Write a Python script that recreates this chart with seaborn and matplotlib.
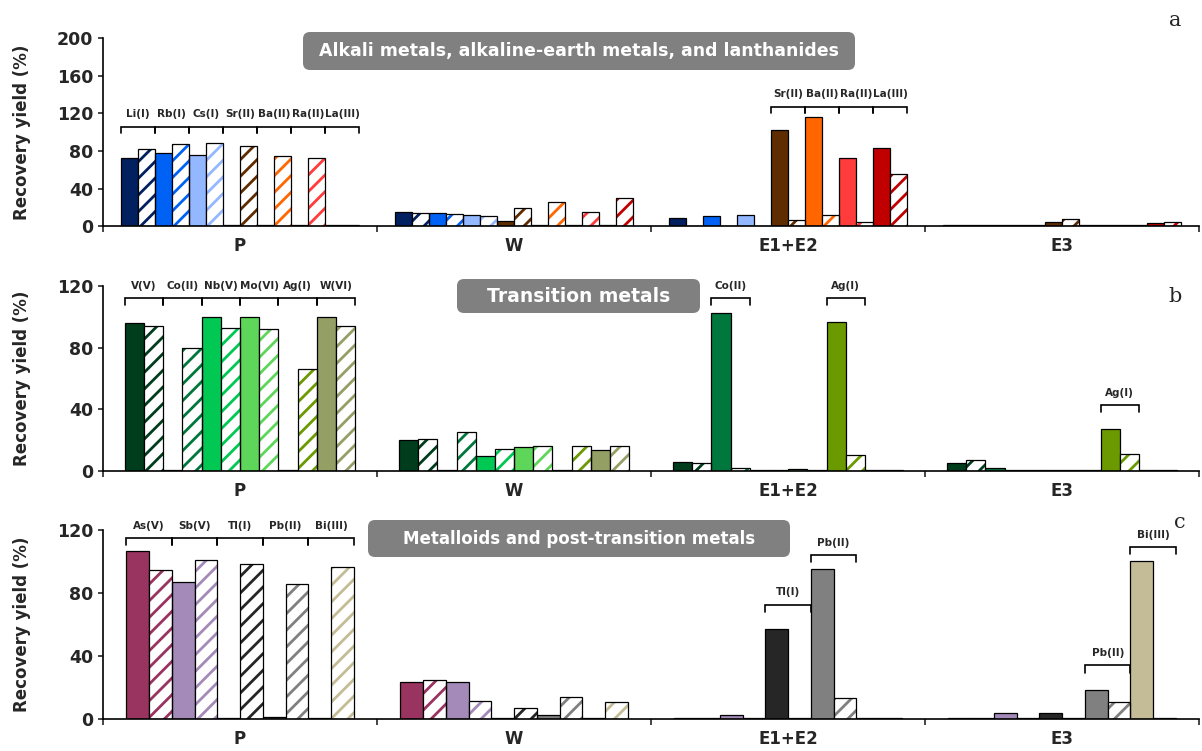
import matplotlib
matplotlib.use("Agg")
import matplotlib.pyplot as plt
from matplotlib.patches import FancyBboxPatch, Rectangle
from matplotlib.transforms import IdentityTransform
import seaborn as sns
import pandas as pd

groups = ["P", "W", "E1+E2", "E3"]

# ---- panel a : alkali / alkaline-earth / lanthanides ----
a_elements = ["Li(I)", "Rb(I)", "Cs(I)", "Sr(II)", "Ba(II)", "Ra(II)", "La(III)"]
a_colors = ["#002060", "#0062F5", "#94B8FF", "#5F2C00", "#FF6600", "#FF3B3B", "#C00000"]
# values per group: solid, hatched for each element
a_P = [72, 82, 78, 87, 76, 88, 1, 85, 0.6, 75, 0.6, 73, 0.6, 0.6]
a_W = [14.5, 14, 14, 13, 12, 11, 5, 19.5, 0.6, 26, 0.6, 15, 0.6, 30]
a_E12 = [9, 0.3, 11, 0.3, 12, 0.3, 102, 6, 116, 12, 73, 4.5, 83, 55]
a_E3 = [0.6, 0.6, 0.6, 0.6, 0.6, 0.6, 4, 8, 0.6, 0.6, 0.6, 0.6, 3, 4]
a_brackets = [("P", 0, 105.6), ("P", 1, 105.6), ("P", 2, 105.6), ("P", 3, 105.6),
              ("P", 4, 105.6), ("P", 5, 105.6), ("P", 6, 105.6),
              ("E1+E2", 3, 127), ("E1+E2", 4, 127), ("E1+E2", 5, 127), ("E1+E2", 6, 127)]

# ---- panel b : transition metals ----
b_elements = ["V(V)", "Co(II)", "Nb(V)", "Mo(VI)", "Ag(I)", "W(VI)"]
b_colors = ["#003D1C", "#00773C", "#00C853", "#5ED65A", "#6A9A00", "#949F66"]
b_P = [96, 94, 0.5, 80, 100, 93, 100, 92, 0.5, 66, 100, 94]
b_W = [20, 20.7, 0.5, 25.5, 9.7, 14, 15.3, 16, 0.5, 16, 13.6, 16]
b_E12 = [5.6, 5.4, 102.5, 2, 0.4, 0.4, 1.5, 0.4, 96.7, 10.4, 0.4, 0.4]
b_E3 = [5, 7, 1.7, 0.4, 0.4, 0.4, 0.4, 0.4, 27.4, 10.8, 0.4, 0.4]
b_brackets = [("P", 0, 112), ("P", 1, 112), ("P", 2, 112), ("P", 3, 112),
              ("P", 4, 112), ("P", 5, 112),
              ("E1+E2", 1, 112), ("E1+E2", 4, 112), ("E3", 4, 42.7)]

# ---- panel c : metalloids / post-transition ----
c_elements = ["As(V)", "Sb(V)", "Tl(I)", "Pb(II)", "Bi(III)"]
c_colors = ["#993360", "#A38AB8", "#262626", "#808080", "#C4BC96"]
c_P = [106.7, 94.6, 87.2, 101, 0.4, 98.2, 1, 85.5, 0.4, 96.3]
c_W = [23.7, 24.6, 23.3, 11.4, 0.4, 6.8, 2.5, 14.2, 0.4, 10.8]
c_E12 = [0.4, 0.4, 2.5, 0.4, 57, 0.4, 95, 13.5, 0.4, 0.4]
c_E3 = [0.4, 0.4, 3.7, 0.4, 3.7, 0.4, 18.4, 10.9, 100, 0.4]
c_brackets = [("P", 0, 114.7), ("P", 1, 114.7), ("P", 2, 114.7), ("P", 3, 114.7),
              ("P", 4, 114.7), ("E1+E2", 2, 72.4), ("E1+E2", 3, 104),
              ("E3", 3, 34), ("E3", 4, 109)]

sns.set_style("ticks")
plt.rcParams["font.family"] = ["DejaVu Sans"]
plt.rcParams["hatch.linewidth"] = 2.0

W_PX, H_PX = 1202, 751
fig = plt.figure(figsize=(W_PX / 100, H_PX / 100), dpi=100)


def draw_panel(rect, elements, colors, values, width, ymax, brackets, tick_len):
    ax = fig.add_axes(rect)
    rows = []
    for g, vals in zip(groups, values):
        for i, el in enumerate(elements):
            rows.append((g, el + " s", vals[2 * i]))
            rows.append((g, el + " h", vals[2 * i + 1]))
    df = pd.DataFrame(rows, columns=["group", "series", "value"])
    order = [el + k for el in elements for k in (" s", " h")]
    palette = {el + k: c for el, c in zip(elements, colors) for k in (" s", " h")}

    sns.barplot(data=df, x="group", y="value", hue="series", order=groups,
                hue_order=order, palette=palette, width=width, errorbar=None,
                saturation=1, edgecolor="black", linewidth=0.9, legend=False, ax=ax)

    # hatched series: white fill, coloured stripes, black outline
    for i, cont in enumerate(ax.containers):
        if i % 2 == 1:
            col = colors[i // 2]
            for bar in cont:
                bar.set_facecolor("white")
                bar.set_edgecolor(col)
                bar.set_hatch("//")
                bar.set_linewidth(0)
                ax.add_patch(Rectangle(bar.get_xy(), bar.get_width(), bar.get_height(),
                                       fill=False, edgecolor="black", linewidth=0.9,
                                       zorder=bar.get_zorder() + 0.1))

    # brackets with element labels
    for g, k, y in brackets:
        gi = groups.index(g)
        bs = [b for b in ax.containers[2 * k] if gi - 0.5 < b.get_x() < gi + 0.5][0]
        bh = [b for b in ax.containers[2 * k + 1] if gi - 0.5 < b.get_x() < gi + 0.5][0]
        x0 = bs.get_x()
        x1 = bh.get_x() + bh.get_width()
        ax.plot([x0, x0, x1, x1], [y - tick_len, y, y, y - tick_len],
                color="black", lw=1.2, clip_on=False, solid_joinstyle="miter")
        ax.annotate(elements[k], ((x0 + x1) / 2, y), xytext=(0, 9),
                    textcoords="offset points", ha="center", va="center",
                    fontsize=7.5, fontweight="bold", annotation_clip=False)

    ax.set_xlim(-0.5, 3.5)
    ax.set_ylim(0, ymax)
    ax.set_yticks(range(0, ymax + 1, 40))
    ax.set_xticks(range(4))
    ax.set_xticklabels(groups, fontsize=12, fontweight="bold")
    ax.set_xticks([-0.5, 0.5, 1.5, 2.5, 3.5], minor=True)
    ax.tick_params(axis="x", which="major", length=0, pad=8)
    ax.tick_params(axis="x", which="minor", length=4, width=1.2, direction="out")
    ax.tick_params(axis="y", length=3.5, width=1.2, direction="out", labelsize=12.5)
    for lab in ax.get_yticklabels():
        lab.set_fontweight("bold")
    ax.set_xlabel("")
    ax.set_ylabel("Recovery yield (%)", fontsize=12, fontweight="bold")
    ax.yaxis.set_label_coords(-0.066, 0.5)
    sns.despine(ax=ax)
    for s in ("left", "bottom"):
        ax.spines[s].set_linewidth(1.2)
        ax.spines[s].set_color("black")
    return ax


draw_panel([0.0857, 0.699, 0.912, 0.250], a_elements, a_colors,
           [a_P, a_W, a_E12, a_E3], 0.87, 200, a_brackets, 6.5)
draw_panel([0.0857, 0.3728, 0.912, 0.2464], b_elements, b_colors,
           [b_P, b_W, b_E12, b_E3], 0.84, 120, b_brackets, 4.5)
draw_panel([0.0857, 0.0426, 0.912, 0.2517], c_elements, c_colors,
           [c_P, c_W, c_E12, c_E3], 0.83, 120, c_brackets, 4.5)

# grey title boxes (pixel positions, y from top)
titles = [("Alkali metals, alkaline-earth metals, and lanthanides", 303, 855, 32, 70, 12.5),
          ("Transition metals", 457, 700, 279, 313, 13.5),
          ("Metalloids and post-transition metals", 368, 790, 520, 557, 12)]
for txt, x0, x1, y0, y1, fs in titles:
    box = FancyBboxPatch((x0, H_PX - y1), x1 - x0, y1 - y0,
                         boxstyle="round,pad=0,rounding_size=7",
                         facecolor="#808080", edgecolor="none",
                         transform=IdentityTransform(), zorder=5)
    fig.add_artist(box)
    fig.text((x0 + x1) / 2 / W_PX, 1 - (y0 + y1) / 2 / H_PX, txt, color="white",
             fontsize=fs, fontweight="bold", ha="center", va="center", zorder=6)

for lab, x, y in [("a", 1175, 20), ("b", 1175, 297), ("c", 1180, 522)]:
    fig.text(x / W_PX, 1 - y / H_PX, lab, fontsize=15, family="DejaVu Serif",
             ha="center", va="center")

fig.savefig("out.png", dpi=100)
